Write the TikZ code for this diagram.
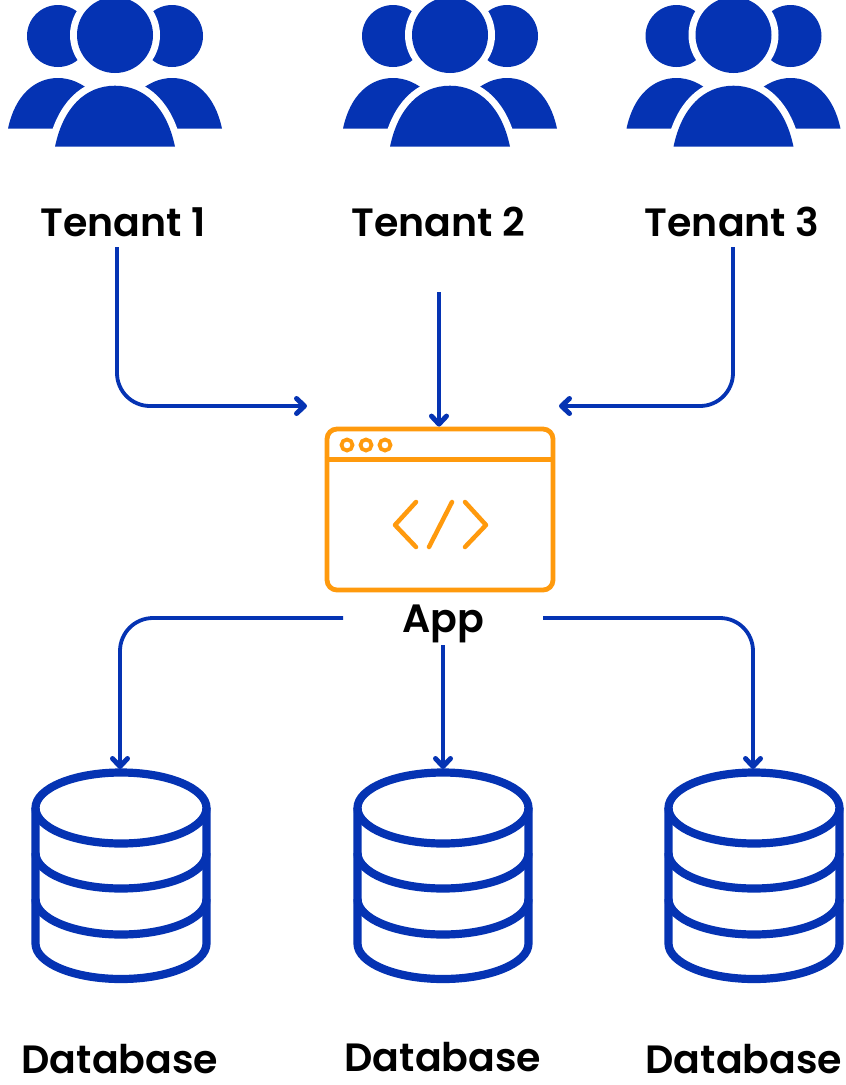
\documentclass[tikz,border=0pt]{standalone}
\usepackage{fontspec}
\setmainfont{Poppins}[BoldFont={Poppins SemiBold}]
\usetikzlibrary{arrows.meta}
\definecolor{tblue}{HTML}{0533B3}
\definecolor{torange}{HTML}{FF9A0D}
\tikzset{
  flow/.style={draw=tblue,line width=3.8pt,rounded corners=33pt,-{Straight Barb[length=8pt,width=15pt,line width=5pt,round]}},
  label/.style={font=\bfseries\fontsize{39.5}{42}\selectfont,text=black,inner sep=0pt,anchor=base},
  appwin/.style={draw=torange,line width=4.8pt,rounded corners=10pt,fill=white,minimum width=226pt,minimum height=161pt,inner sep=0pt},
  appline/.style={draw=torange,line width=4.5pt,line cap=round,line join=round},
  dbline/.style={draw=tblue,line width=8.2pt},
  usersicon/.pic={
    \fill[tblue] (-57,36) circle[radius=31];
    \fill[tblue] (57,36) circle[radius=31];
    \fill[white] (0,35) circle[radius=45];
    \fill[tblue] (0,35) circle[radius=38];
    \fill[tblue] (-107,128.7) .. controls (-100,95) and (-80,78) .. (-57,78) .. controls (-32,78) and (-8,100) .. (-7,128.7) -- cycle;
    \fill[tblue] (107,128.7) .. controls (100,95) and (80,78) .. (57,78) .. controls (32,78) and (8,100) .. (7,128.7) -- cycle;
    \path[fill=tblue,draw=white,line width=14pt] (-60,146.7) .. controls (-52,108) and (-30,85.7) .. (0,85.7) .. controls (30,85.7) and (52,108) .. (60,146.7) -- cycle;
    \fill[tblue] (-60,146.7) .. controls (-52,108) and (-30,85.7) .. (0,85.7) .. controls (30,85.7) and (52,108) .. (60,146.7) -- cycle;
  },
  dbicon/.pic={
    \draw[dbline] (0,808) ellipse[x radius=85.5,y radius=35.5];
    \draw[dbline,line join=round] (-85.5,808) -- (-85.5,943.5) arc[start angle=180,end angle=0,x radius=85.5,y radius=35.5] -- (85.5,808);
    \draw[dbline] (-85.5,853) arc[start angle=180,end angle=0,x radius=85.5,y radius=35.5];
    \draw[dbline] (-85.5,899) arc[start angle=180,end angle=0,x radius=85.5,y radius=35.5];
  }
}
\begin{document}
\begin{tikzpicture}[x=1pt,y=-1pt]
\useasboundingbox (0,0) rectangle (846,1085);
\fill[white] (0,0) rectangle (846,1085);
\pic (u1) at (115,0) {usersicon};
\pic (u2) at (450,0) {usersicon};
\pic (u3) at (733.5,0) {usersicon};
\node[label] (t1) at (123,236) {Tenant 1};
\node[label] (t2) at (438,236) {Tenant 2};
\node[label] (t3) at (732,236) {Tenant 3};
\node[appwin] (app) at (440,509.5) {};
\draw[torange,line width=4.5pt] (app.west |- 0,459.5) -- (app.east |- 0,459.5);
\foreach \cx in {347,366,385} \draw[torange,line width=3.8pt] (\cx,445) circle[radius=5.5];
\draw[appline] (416,502) -- (395,525) -- (416,547);
\draw[appline] (452,502) -- (429,547);
\draw[appline] (465,502) -- (486,525) -- (465,547);
\node[label] (applabel) at (443,632) {App};
\pic (d1) at (121,0) {dbicon};
\pic (d2) at (443,0) {dbicon};
\pic (d3) at (754,0) {dbicon};
\node[label] (b1) at (120,1073) {Database};
\node[label] (b2) at (443,1071.5) {Database};
\node[label] (b3) at (744,1073) {Database};
\coordinate (s1) at (117,247);
\coordinate (e1) at (307,406);
\coordinate (s2) at (439,292);
\coordinate (s3) at (733,247);
\coordinate (e3) at (559,406);
\coordinate (as1) at (343,618);
\coordinate (as2) at (443,645);
\coordinate (as3) at (543,618);
\coordinate (de1) at (120,769);
\coordinate (de2) at (443,769);
\coordinate (de3) at (753,769);
\draw[flow] (s1) |- (e1);
\draw[flow] (s2) -- (s2 |- app.north);
\draw[flow] (s3) |- (e3);
\draw[flow] (as1) -| (de1);
\draw[flow] (as2) -- (de2);
\draw[flow] (as3) -| (de3);
\end{tikzpicture}
\end{document}
